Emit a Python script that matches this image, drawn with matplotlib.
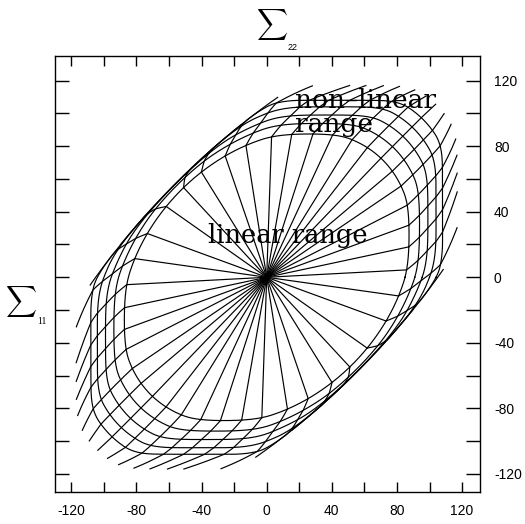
import numpy as np
import matplotlib.pyplot as plt
from matplotlib.ticker import MultipleLocator

plt.rcParams["axes.unicode_minus"] = False

# Directions (deg) of the radial stress paths over one half of the fan;
# the other half is the same set turned by 180 deg.
PATH_ANGLES = [3, 12, 20, 27, 34, 40, 46, 52, 58, 65, 72, 80, 88,
               99, 109, 122, 133, 145, 160, 172]

# Outer limit in the shear quadrants: a long ellipse with its major
# axis on sigma11 = sigma22 (almost straight flanks)
SHEAR_MAJOR = 200.0
SHEAR_MINOR = 80.0

# Loading levels as ellipses about sigma11 = sigma22: semi-axis along the
# diagonal, semi-axis across it, the cap on |sigma11|, |sigma22|, and how far
# the paths have turned towards the biaxial corner.
# Level 0 is first yield, the last one ends the paths.
LEVEL_MAJOR = [101, 111, 120, 128, 136, 148]
LEVEL_MINOR = [74.8, 79.0, 81.7, 84.8, 88.0, 90.3]
LEVEL_CAP = [88, 94, 99, 104, 108, 117]
LEVEL_TURN = [0.0, 0.08, 0.15, 0.21, 0.27, 0.50]
N_CONTOURS = 5          # levels 0..4 are drawn as closed loci
CAP_EXP = 10.0


def r_ellipse(phi, a, b):
    t = phi - np.pi / 4
    return 1.0 / np.sqrt(np.cos(t) ** 2 / a ** 2 + np.sin(t) ** 2 / b ** 2)


def r_cap(phi, a):
    q = CAP_EXP
    return a / (np.abs(np.cos(phi)) ** q + np.abs(np.sin(phi)) ** q) ** (1 / q)


def soft_min(p, q, k=3.0):
    h = np.clip(0.5 + 0.5 * (q - p) / k, 0, 1)
    return q * (1 - h) + p * h - k * h * (1 - h)


def radius(level, phi):
    lv = np.arange(len(LEVEL_MAJOR))
    a = np.interp(level, lv, LEVEL_MAJOR)
    b = np.interp(level, lv, LEVEL_MINOR)
    c = np.interp(level, lv, LEVEL_CAP)
    r = soft_min(r_ellipse(phi, a, b), r_cap(phi, c), k=4.0)
    return soft_min(r, r_ellipse(phi, SHEAR_MAJOR, SHEAR_MINOR))


def stress_path(phi0):
    """Straight elastic ray, then the curved post-yield part."""
    phi0 = np.radians(phi0)
    r0 = radius(0.0, phi0)
    ray = np.array([[0.0, 0.0], [r0 * np.cos(phi0), r0 * np.sin(phi0)]])

    # turn towards the nearest biaxial corner (45 or 225 deg)
    target = np.pi / 4 if np.cos(phi0 - np.pi / 4) >= 0 else 5 * np.pi / 4
    delta = np.angle(np.exp(1j * (target - phi0)))
    delta = np.clip(delta, -np.radians(45), np.radians(45))

    lam = np.linspace(0, len(LEVEL_MAJOR) - 1, 150)
    phi = phi0 + np.interp(lam, np.arange(len(LEVEL_TURN)), LEVEL_TURN) * delta
    r = radius(lam, phi)
    return ray, np.column_stack([r * np.cos(phi), r * np.sin(phi)])


fig = plt.figure(figsize=(5.25, 5.24), dpi=100)
ax = fig.add_axes([0.1048, 0.0611, 0.8095, 0.832])

lw = 0.85
for ang in PATH_ANGLES:
    for a in (ang, ang + 180):
        ray, tail = stress_path(a)
        ax.plot(ray[:, 0], ray[:, 1], color="black", lw=lw)
        ax.plot(tail[:, 0], tail[:, 1], color="black", lw=lw)

phi = np.linspace(0, 2 * np.pi, 1441)
for k in range(N_CONTOURS):
    r = radius(float(k), phi)
    ax.plot(r * np.cos(phi), r * np.sin(phi), color="black", lw=lw)

ax.set_xlim(-130, 131)
ax.set_ylim(-131, 135)

ax.xaxis.set_major_locator(MultipleLocator(40))
ax.xaxis.set_minor_locator(MultipleLocator(20))
ax.yaxis.set_major_locator(MultipleLocator(40))
ax.yaxis.set_minor_locator(MultipleLocator(20))
ax.tick_params(which="both", direction="in", top=True, bottom=True,
               left=True, right=True, labelleft=False, labelright=True,
               width=1.0, labelsize=10)
ax.tick_params(which="both", axis="x", length=7)
ax.tick_params(which="both", axis="y", length=10)
ax.tick_params(axis="x", pad=9)
ax.tick_params(axis="y", pad=10)
for lab in ax.get_xticklabels() + ax.get_yticklabels():
    lab.set_fontfamily("Liberation Sans")
for sp in ax.spines.values():
    sp.set_linewidth(1.0)

serif = "DejaVu Serif"
ax.text(-36, 21, "linear range", fontsize=18.5, family=serif, va="baseline")
ax.text(17.5, 103, "non–linear", fontsize=19, family=serif, va="baseline")
ax.text(17.5, 88.5, "range", fontsize=19, family=serif, va="baseline")

# axis titles: summation sign with a small subscript
fig.text(272 / 525, 1 - 25 / 524, r"$\sum$", fontsize=15.5, ha="center",
         va="center", math_fontfamily="cm")
fig.text(288 / 525, 1 - 47 / 524, "22", fontsize=6.5, ha="left", va="center",
         family="Liberation Sans")
fig.text(21 / 525, 1 - 301 / 524, r"$\sum$", fontsize=15.5, ha="center",
         va="center", math_fontfamily="cm")
fig.text(37 / 525, 1 - 321 / 524, "11", fontsize=7, ha="left", va="center",
         family="Liberation Serif")

fig.savefig("out.png", dpi=100)
